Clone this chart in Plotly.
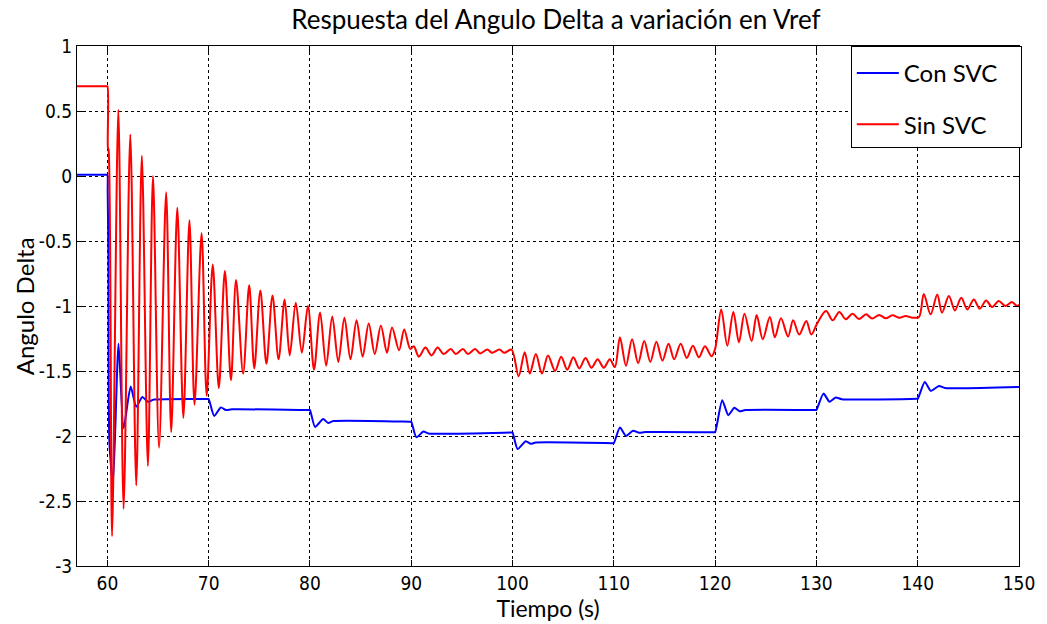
import plotly.graph_objects as go

# ---------------- data ----------------
t_sin = [57.0, 59.9, 60.0, 60.05, 60.12, 60.46, 61.08, 61.6, 62.26, 62.85, 63.4, 64.0, 64.5, 65.1,
         65.8, 66.3, 66.9, 67.5, 68.1, 68.6, 69.3, 69.8, 70.4, 71.0, 71.6, 72.2, 72.7, 73.4,
         74.0, 74.5, 75.1, 75.7, 76.3, 76.9, 77.5, 78.0, 78.6, 79.2, 79.8, 80.4, 81.0, 81.6,
         82.2, 82.8, 83.4, 84.0, 84.6, 85.2, 85.8, 86.4, 87.0, 87.6, 88.1, 88.8, 89.3, 89.9,
         90.25, 90.75, 91.4, 92.0, 92.6, 93.2, 93.9, 94.4, 95.1, 95.6, 96.3, 96.8, 97.5, 98.0,
         98.7, 99.2, 99.9, 100.6, 101.2, 101.7, 102.3, 102.9, 103.5, 104.2, 104.8, 105.4,
         106.0, 106.6, 107.2, 107.8, 108.4, 109.0, 109.6, 110.1, 110.6, 111.2, 111.8, 112.4,
         113.0, 113.6, 114.2, 114.8, 115.4, 115.95, 116.6, 117.2, 117.8, 118.4, 119.0, 119.65,
         120.0, 120.6, 121.2, 121.8, 122.35, 122.9, 123.6, 124.1, 124.7, 125.4, 125.9, 126.5,
         127.2, 127.7, 128.3, 129.0, 129.5, 130.1, 130.95, 131.6, 132.26, 132.9, 133.57, 134.2,
         134.9, 135.5, 136.2, 136.85, 137.5, 138.2, 138.8, 139.5, 140.13, 140.6, 141.27,
         141.93, 142.4, 143.08, 143.67, 144.3, 144.9, 145.54, 146.13, 146.75, 147.34, 148.0,
         148.65, 149.3, 149.8, 150.0]
v_sin = [0.69, 0.69, 0.69, 0.22, 0.20, -2.77, 0.51, -2.56, 0.32, -2.38, 0.155, -2.23, 0.0, -2.09,
         -0.125, -1.97, -0.245, -1.86, -0.34, -1.76, -0.44, -1.69, -0.68, -1.63, -0.73, -1.57,
         -0.80, -1.52, -0.84, -1.48, -0.88, -1.445, -0.92, -1.41, -0.95, -1.38, -0.975, -1.36,
         -1.0, -1.49, -1.05, -1.46, -1.08, -1.43, -1.09, -1.41, -1.11, -1.39, -1.135, -1.37,
         -1.15, -1.36, -1.165, -1.34, -1.18, -1.33, -1.31, -1.39, -1.32, -1.38, -1.32, -1.37,
         -1.33, -1.37, -1.33, -1.37, -1.33, -1.365, -1.335, -1.36, -1.335, -1.36, -1.335,
         -1.54, -1.355, -1.52, -1.37, -1.52, -1.38, -1.50, -1.39, -1.49, -1.395, -1.48, -1.40,
         -1.475, -1.41, -1.475, -1.41, -1.47, -1.24, -1.46, -1.255, -1.44, -1.27, -1.43,
         -1.275, -1.42, -1.29, -1.41, -1.29, -1.40, -1.305, -1.395, -1.31, -1.387, -1.33,
         -1.026, -1.305, -1.046, -1.28, -1.06, -1.27, -1.07, -1.255, -1.085, -1.24, -1.095,
         -1.235, -1.11, -1.22, -1.115, -1.22, -1.13, -1.039, -1.110, -1.046, -1.102, -1.059,
         -1.10, -1.064, -1.097, -1.069, -1.095, -1.072, -1.09, -1.077, -1.09, -1.084, -0.907,
         -1.064, -0.912, -1.051, -0.924, -1.034, -0.937, -1.026, -0.95, -1.021, -0.957,
         -1.008, -0.962, -1.0, -0.97, -1.0, -0.99]

t_con = [57.0, 59.9, 60.0, 60.03, 60.1, 60.2, 60.55, 61.1, 61.6, 62.3, 62.85, 63.45, 64.0, 64.6,
         69.9, 70.0, 70.55, 71.2, 71.7, 72.3, 79.9, 80.0, 80.5, 81.3, 81.8, 82.3, 89.9, 90.0,
         90.5, 91.2, 91.7, 99.9, 100.0, 100.5, 101.3, 101.8, 102.3, 109.9, 110.0, 110.6, 111.2,
         111.9, 112.5, 113.1, 119.9, 120.0, 120.7, 121.3, 121.9, 122.4, 123.0, 129.9, 130.0,
         130.7, 131.3, 131.9, 132.5, 139.9, 140.0, 140.7, 141.3, 142.1, 142.7, 150.0]
v_con = [0.01, 0.01, 0.01, -0.12, -0.6, -2.05, -2.37, -1.29, -1.94, -1.62, -1.775, -1.70,
         -1.737, -1.72, -1.715, -1.715, -1.846, -1.78, -1.80, -1.795, -1.80, -1.80, -1.93,
         -1.87, -1.90, -1.885, -1.89, -1.89, -2.01, -1.966, -1.98, -1.973, -1.973, -2.10,
         -2.04, -2.06, -2.05, -2.055, -2.055, -1.935, -1.999, -1.96, -1.975, -1.97, -1.971,
         -1.971, -1.725, -1.84, -1.783, -1.81, -1.80, -1.80, -1.80, -1.674, -1.737, -1.704,
         -1.717, -1.714, -1.714, -1.585, -1.653, -1.615, -1.63, -1.623]

x_ticks = [60, 70, 80, 90, 100, 110, 120, 130, 140, 150]
x_labels = ["60", "70", "80", "90", "100", "110", "120", "130", "140", "150"]
y_ticks = [1, 0.5, 0, -0.5, -1, -1.5, -2, -2.5, -3]
y_labels = ["1", "0.5", "0", "-0.5", "-1", "-1.5", "-2", "-2.5", "-3"]
series_names = ["Con SVC", "Sin SVC"]

# ---------------- figure ----------------
pad = "\u00a0\u00a0\u00a0"
fig = go.Figure()
fig.add_trace(go.Scatter(x=t_con, y=v_con, mode="lines", name=series_names[0] + pad,
                         line=dict(color="#0000ff", width=2, shape="spline", smoothing=0.6),
                         legendgroup="a"))
fig.add_trace(go.Scatter(x=t_sin, y=v_sin, mode="lines", name=series_names[1] + pad,
                         line=dict(color="#ff0000", width=2, shape="spline", smoothing=0.9),
                         legendgroup="b"))

tick_font = dict(family="Liberation Sans Narrow, DejaVu Sans Condensed, Arial", size=19, color="black")
axis_common = dict(showline=True, linecolor="black", linewidth=1, mirror="ticks",
                   ticks="inside", ticklen=6, tickcolor="black",
                   showgrid=True, gridcolor="black", gridwidth=1, griddash="dot",
                   zeroline=False, tickfont=tick_font)

fig.update_layout(
    width=1047, height=624,
    paper_bgcolor="white", plot_bgcolor="white",
    margin=dict(l=77, r=25, t=46, b=53),
    title=dict(text="Respuesta del Angulo Delta a variación en Vref",
               font=dict(family="Lato", size=26, color="black"),
               x=0.531, xanchor="center", y=0.968, yanchor="middle"),
    xaxis=dict(range=[57, 150], tickvals=x_ticks, ticktext=x_labels,
               title=dict(text="Tiempo (s)", font=dict(family="Lato", size=23, color="black"),
                          standoff=2),
               **axis_common),
    yaxis=dict(range=[-3, 1], tickvals=y_ticks, ticktext=y_labels, **axis_common),
    legend=dict(x=1.003, y=1, xanchor="right", yanchor="top",
                bgcolor="white", bordercolor="black", borderwidth=1,
                font=dict(family="Lato", size=24, color="black"),
                title=dict(text=" ", font=dict(size=3)),
                itemwidth=42,
                traceorder="grouped", tracegroupgap=17),
    annotations=[dict(text="Angulo Delta", xref="paper", yref="paper",
                      x=-0.056, y=0.5, xanchor="center", yanchor="middle",
                      textangle=-90, showarrow=False,
                      font=dict(family="Lato", size=24, color="black"))],
)

fig.write_html("out.html")
